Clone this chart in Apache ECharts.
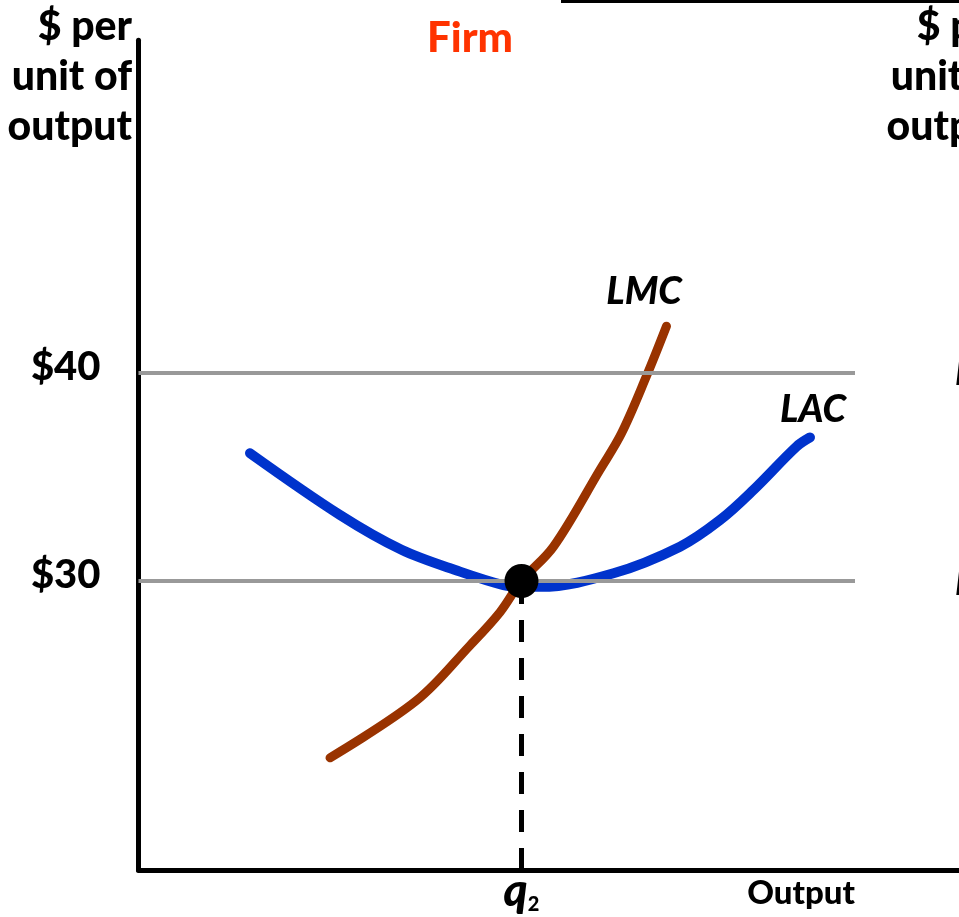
<!DOCTYPE html>
<html>
<head>
<meta charset="utf-8">
<script src="https://cdn.jsdelivr.net/npm/echarts@6/dist/echarts.min.js"></script>
<style>
html,body{margin:0;padding:0;background:#fff;}
#chart{width:959px;height:917px;}
</style>
</head>
<body>
<div id="chart"></div>
<script>
// ---- data (x: output in arbitrary units, y: $ per unit of output) ----
const lacX = [11.15, 20.15, 26.3, 32.15, 36.5, 38.3, 40.2, 47.5, 54.15, 58.15, 61.5, 65.8, 67.15];
const lacY = [36.14, 33.17, 31.5, 30.45, 29.8, 29.72, 29.72, 30.37, 31.65, 32.93, 34.38, 36.46, 36.9];
const lmcX = [19.15, 27.8, 33.15, 36.15, 38.3, 41.5, 46.15, 48.3, 50.8, 52.8];
const lmcY = [21.5, 24.25, 26.9, 28.5, 30.0, 31.65, 35.35, 37.1, 39.85, 42.25];
const priceLevels = [30, 40];
const priceLineEnd = 71.65;
const qStar = 38.3;
const pStar = 30;
const yAxisMin = 16.1;
const yAxisMax = 56;
const xAxisMin = 0;
const xAxisMax = 82;
const yTickLabels = ['$30', '$40'];
const qLabel = 'q';
const qSub = '2';

const zip = (xs, ys) => xs.map((x, i) => [x, ys[i]]);

const chart = echarts.init(document.getElementById('chart'), null, {renderer: 'canvas'});
const FONT = 'Lato';
const W = 900;

const option = {
  animation: false,
  backgroundColor: '#ffffff',
  grid: {left: 138.5, right: 0.5, top: 40.2, bottom: 917 - 870.1, containLabel: false},
  xAxis: {
    type: 'value', min: xAxisMin, max: xAxisMax,
    axisLine: {show: true, onZero: false, lineStyle: {color: '#000', width: 5}},
    axisTick: {show: false},
    splitLine: {show: false},
    axisLabel: {
      customValues: [qStar],
      margin: 2,
      formatter: () => '{q|' + qLabel + '}{s|' + qSub + '}',
      rich: {
        q: {fontFamily: FONT, fontStyle: 'italic', fontWeight: W, fontSize: 46, color: '#000', verticalAlign: 'bottom', lineHeight: 42},
        s: {fontFamily: FONT, fontWeight: W, fontSize: 20, color: '#000', verticalAlign: 'bottom', lineHeight: 32}
      }
    }
  },
  yAxis: {
    type: 'value', min: yAxisMin, max: yAxisMax,
    axisLine: {show: true, onZero: false, lineStyle: {color: '#000', width: 5}},
    axisTick: {show: false},
    splitLine: {show: false},
    axisLabel: {
      customValues: priceLevels,
      margin: 38,
      formatter: (v) => '{a|' + yTickLabels[priceLevels.indexOf(v)] + '}',
      rich: {
        a: {fontFamily: FONT, fontWeight: W, fontSize: 40, color: '#000', padding: [0, 0, 11, 0]}
      }
    }
  },
  series: [
    {
      type: 'line', name: 'price lines', data: [], silent: true,
      markLine: {
        symbol: 'none', silent: true, label: {show: false},
        lineStyle: {color: '#999999', width: 4, type: 'solid'},
        data: priceLevels.map(p => [{coord: [xAxisMin, p]}, {coord: [priceLineEnd, p]}])
      }
    },
    {
      type: 'line', name: 'q dashed', data: [[qStar, yAxisMin], [qStar, pStar]],
      symbol: 'none', silent: true,
      lineStyle: {color: '#000', width: 5, type: [22, 16]}
    },
    {
      type: 'line', name: 'LAC', data: zip(lacX, lacY), smooth: 0.35,
      symbol: 'none', lineStyle: {color: '#0033CC', width: 10, cap: 'round', join: 'round'}
    },
    {
      type: 'line', name: 'LMC', data: zip(lmcX, lmcY), smooth: 0.35,
      symbol: 'none', lineStyle: {color: '#993300', width: 9, cap: 'round', join: 'round'}
    },
    {
      type: 'scatter', name: 'equilibrium', data: [[qStar, pStar]],
      symbolSize: 34, itemStyle: {color: '#000', opacity: 1}, z: 10
    }
  ],
  graphic: [
    {type: 'rect', shape: {x: 561, y: 0, width: 400, height: 3}, style: {fill: '#000'}},
    {type: 'text', x: 132, y: 2, style: {text: '$ per\nunit of\noutput', fontFamily: FONT, fontWeight: W, fontSize: 41, lineHeight: 50, fill: '#000', textAlign: 'right', textVerticalAlign: 'top'}},
    {type: 'text', x: 1011, y: 2, style: {text: '$ per\nunit of\noutput', fontFamily: FONT, fontWeight: W, fontSize: 41, lineHeight: 50, fill: '#000', textAlign: 'right', textVerticalAlign: 'top'}},
    {type: 'text', x: 470, y: 38, style: {text: 'Firm', fontFamily: FONT, fontWeight: W, fontSize: 42, fill: '#FF3300', textAlign: 'center', textVerticalAlign: 'middle'}},
    {type: 'text', x: 855, y: 893, style: {text: 'Output', fontFamily: FONT, fontWeight: W, fontSize: 33, fill: '#000', textAlign: 'right', textVerticalAlign: 'middle'}},
    {type: 'text', x: 644, y: 292, style: {text: 'LMC', fontFamily: FONT, fontStyle: 'italic', fontWeight: W, fontSize: 38, fill: '#000', textAlign: 'center', textVerticalAlign: 'middle'}},
    {type: 'text', x: 813, y: 410, style: {text: 'LAC', fontFamily: FONT, fontStyle: 'italic', fontWeight: W, fontSize: 38, fill: '#000', textAlign: 'center', textVerticalAlign: 'middle'}},
    {type: 'text', x: 955, y: 373, style: {text: 'P', fontFamily: FONT, fontStyle: 'italic', fontWeight: W, fontSize: 37, fill: '#000', textAlign: 'left', textVerticalAlign: 'middle'}},
    {type: 'text', x: 955, y: 583, style: {text: 'P', fontFamily: FONT, fontStyle: 'italic', fontWeight: W, fontSize: 37, fill: '#000', textAlign: 'left', textVerticalAlign: 'middle'}}
  ]
};
chart.setOption(option);
</script>
</body>
</html>
